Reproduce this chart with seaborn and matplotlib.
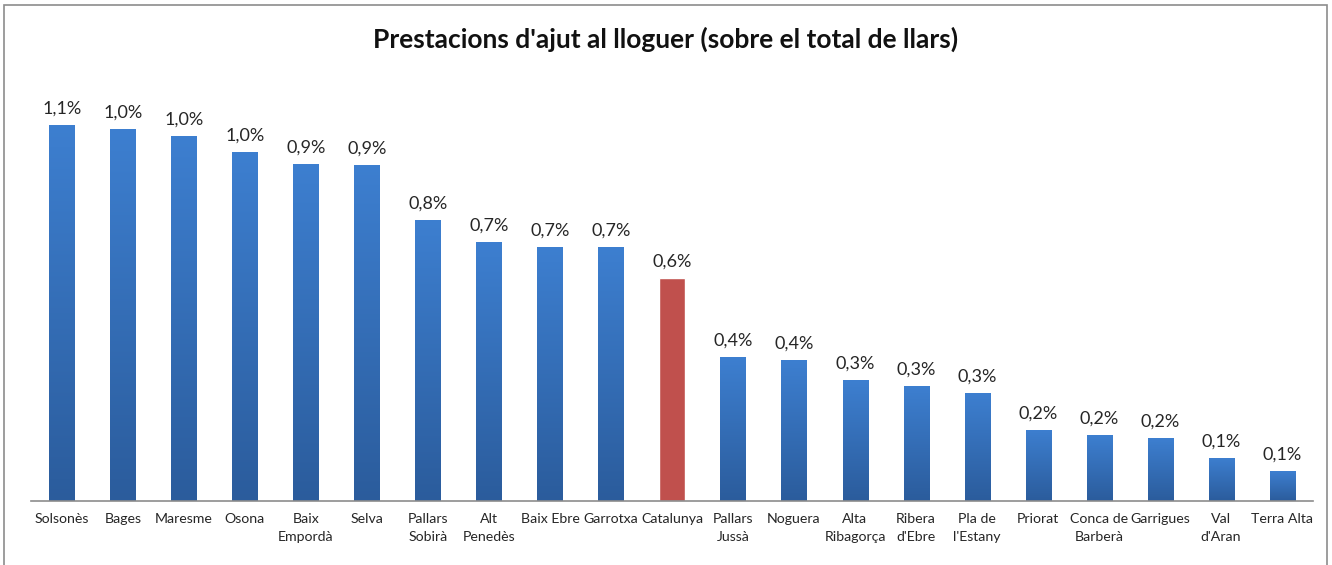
import numpy as np
import matplotlib.pyplot as plt
import seaborn as sns
from matplotlib.patches import Rectangle

# comarques + Catalunya, share of households receiving rent aid (%)
comarques = ["Solsonès", "Bages", "Maresme", "Osona", "Baix\nEmpordà", "Selva",
             "Pallars\nSobirà", "Alt\nPenedès", "Baix Ebre", "Garrotxa", "Catalunya",
             "Pallars\nJussà", "Noguera", "Alta\nRibagorça", "Ribera\nd'Ebre",
             "Pla de\nl'Estany", "Priorat", "Conca de\nBarberà", "Garrigues",
             "Val\nd'Aran", "Terra Alta"]
percent = [1.056, 1.045, 1.025, 0.98, 0.946, 0.944, 0.79, 0.727, 0.713, 0.713,
           0.626, 0.404, 0.396, 0.34, 0.323, 0.303, 0.2, 0.185, 0.177, 0.121, 0.084]
highlight = "Catalunya"

sns.set_theme(style="white")
plt.rcParams['font.family'] = ['Lato', 'DejaVu Sans']

fig = plt.figure(figsize=(13.32, 5.65), dpi=100)
ax = fig.add_axes([0.0236, 0.1133, 0.9618, 0.745])

sns.barplot(x=list(range(len(comarques))), y=percent, color="#3A7BCB",
            width=0.41, ax=ax, saturation=1)

# gradient fill: lighter at the top, darker at the baseline
grad = np.linspace(0, 1, 256).reshape(-1, 1)
blues = plt.matplotlib.colors.LinearSegmentedColormap.from_list(
    "xl", ["#2B5C9C", "#3D7FD0"])
for patch, name in zip(ax.patches, comarques):
    if name == highlight:
        patch.set_facecolor("#C0504D")
        continue
    x0, y0 = patch.get_x(), patch.get_y()
    w, h = patch.get_width(), patch.get_height()
    im = ax.imshow(grad, cmap=blues, aspect="auto", origin="lower",
                   extent=(x0, x0 + w, y0, y0 + h), zorder=patch.get_zorder() + 0.1)
    im.set_clip_path(patch)

labels = [f"{v:.1f}".replace(".", ",") + "%" for v in percent]
ax.bar_label(ax.containers[0], labels=labels, padding=6, fontsize=13, color="#262626")

ax.set_xlim(-0.5, len(comarques) - 0.5)
ax.set_ylim(0, 1.183)
ax.set_xticks(range(len(comarques)))
ax.set_xticklabels(comarques, fontsize=10.2, color="#262626", linespacing=1.6,
                   va="top", ha="center")
ax.tick_params(axis="x", length=0, pad=9)
ax.set_yticks([])
for s in ["top", "right", "left"]:
    ax.spines[s].set_visible(False)
ax.spines["bottom"].set_color("#8C8C8C")
ax.spines["bottom"].set_linewidth(1.2)
ax.set_xlabel("")
ax.set_ylabel("")

fig.text(0.5, 0.93, "Prestacions d'ajut al lloguer (sobre el total de llars)",
         ha="center", va="center", fontsize=19, fontweight="bold", color="#111111")

# chart frame
fig.patches.append(Rectangle((4 / 1332, -0.05), 1323 / 1332, 1.0412,
                             transform=fig.transFigure, fill=False,
                             edgecolor="#8C8C8C", linewidth=1.2))

fig.savefig("out.png", dpi=100)
